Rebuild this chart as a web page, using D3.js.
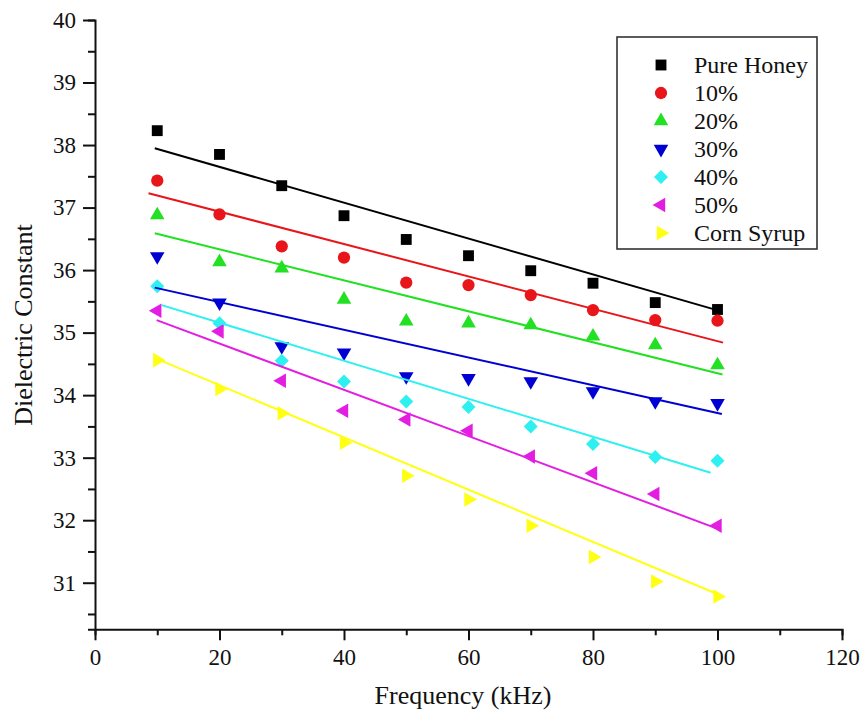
<!DOCTYPE html>
<html>
<head>
<meta charset="utf-8">
<script src="https://cdn.jsdelivr.net/npm/d3@7"></script>
<style>
  html, body { margin: 0; padding: 0; background: #fff; }
  svg { display: block; }
  svg text { font-family: "Liberation Serif", Tinos, "Times New Roman", "DejaVu Serif", serif; fill: #111; }
</style>
</head>
<body>
<svg id="chart" width="860" height="717"></svg>
<script>
// Frequencies (kHz)
const frequency = [10, 20, 30, 40, 50, 60, 70, 80, 90, 100];

// Dielectric constant of each sample
const pureHoney = [38.23, 37.85, 37.35, 36.87, 36.49, 36.23, 35.99, 35.79, 35.48, 35.37];
const syrup10   = [37.43, 36.89, 36.38, 36.20, 35.80, 35.76, 35.60, 35.36, 35.20, 35.19];
const syrup20   = [36.88, 36.13, 36.03, 35.53, 35.18, 35.15, 35.12, 34.94, 34.80, 34.48];
const syrup30   = [36.22, 35.48, 34.78, 34.68, 34.30, 34.27, 34.22, 34.06, 33.90, 33.87];
const syrup40   = [35.74, 35.15, 34.55, 34.22, 33.90, 33.81, 33.50, 33.22, 33.01, 32.95];
const syrup50   = [35.35, 35.02, 34.23, 33.75, 33.61, 33.43, 33.02, 32.75, 32.42, 31.91];
const cornSyrup = [34.56, 34.10, 33.71, 33.24, 32.71, 32.33, 31.91, 31.41, 31.02, 30.78];

const seriesNames = ["Pure Honey", "10%", "20%", "30%", "40%", "50%", "Corn Syrup"];

// Linear fit lines: start / end frequency and fitted value
const fitFromFreq = [9.6, 8.6, 9.6, 9.6, 10.7, 9.9, 10.4];
const fitFromVal  = [37.95, 37.23, 36.59, 35.72, 35.44, 35.20, 34.56];
const fitToFreq   = [99.9, 100.9, 100.8, 100.7, 98.9, 100.4, 100.9];
const fitToVal    = [35.36, 34.84, 34.33, 33.70, 32.76, 31.85, 30.78];

// Axis ticks
const xTicks = [0, 20, 40, 60, 80, 100, 120];
const xMinorTicks = [10, 30, 50, 70, 90, 110];
const yTicks = [31, 32, 33, 34, 35, 36, 37, 38, 39, 40];
const yMinorTicks = [30.5, 31.5, 32.5, 33.5, 34.5, 35.5, 36.5, 37.5, 38.5, 39.5];

const seriesValues = [pureHoney, syrup10, syrup20, syrup30, syrup40, syrup50, cornSyrup];
const colors = ["#000000", "#e8161a", "#22e022", "#0000d2", "#2ef0f0", "#e21ee2", "#ffff14"];
// marker shape + rotation for each series
const markers = [
  { type: d3.symbolSquare,   size: 118, rot: 0 },
  { type: d3.symbolCircle,   size: 118, rot: 0 },
  { type: d3.symbolTriangle, size: 92,  rot: 0 },
  { type: d3.symbolTriangle, size: 92,  rot: 180 },
  { type: d3.symbolSquare,   size: 98,  rot: 45 },
  { type: d3.symbolTriangle, size: 92,  rot: -90 },
  { type: d3.symbolTriangle, size: 92,  rot: 90 }
];

const serif = '"Liberation Serif", Tinos, "Times New Roman", "DejaVu Serif", serif';
const svg = d3.select("#chart");

const x = d3.scaleLinear().domain([0, 120]).range([95, 842]);
const y = d3.scaleLinear().domain([30.255, 40]).range([629.3, 20]);

// Axes
const axisColor = "#111";
const gx = svg.append("g").attr("transform", `translate(0,${y.range()[0]})`);
gx.call(d3.axisBottom(x).tickValues(xTicks).tickSize(11).tickPadding(8).tickFormat(d3.format("d")));
gx.append("g").call(d3.axisBottom(x).tickValues(xMinorTicks).tickSize(6).tickFormat(""));

const gy = svg.append("g").attr("transform", `translate(${x.range()[0]},0)`);
gy.call(d3.axisLeft(y).tickValues(yTicks).tickSize(12).tickPadding(7).tickFormat(d3.format("d")));
gy.append("g").call(d3.axisLeft(y).tickValues(yMinorTicks).tickSize(7).tickFormat(""));

svg.selectAll("g").attr("font-family", serif);
svg.selectAll(".domain").attr("stroke", axisColor).attr("stroke-width", 2);
svg.selectAll(".tick line").attr("stroke", axisColor).attr("stroke-width", 2);
svg.selectAll(".tick text")
  .style("font-family", serif)
  .attr("font-size", 23).attr("fill", "#111");
// minor axes: hide duplicate domain paths
gx.select("g .domain").remove();
gy.select("g .domain").remove();

// Axis titles
svg.append("text")
  .attr("x", 463).attr("y", 704)
  .attr("text-anchor", "middle")
  .style("font-family", serif)
  .attr("font-size", 26)
  .text("Frequency (kHz)");
svg.append("text")
  .attr("transform", "translate(32,325) rotate(-90)")
  .attr("text-anchor", "middle")
  .style("font-family", serif)
  .attr("font-size", 26)
  .text("Dielectric Constant");

// Data markers
const plot = svg.append("g");
seriesValues.forEach((vals, i) => {
  const m = markers[i];
  const sym = d3.symbol().type(m.type).size(m.size);
  plot.append("g").selectAll("path")
    .data(vals.map((v, j) => [frequency[j], v]))
    .join("path")
    .attr("d", sym)
    .attr("transform", d => `translate(${x(d[0])},${y(d[1])}) rotate(${m.rot})`)
    .attr("fill", colors[i]);
});

// Fit lines
const lineGen = d3.line().x(d => x(d[0])).y(d => y(d[1]));
seriesValues.forEach((vals, i) => {
  plot.append("path")
    .datum([[fitFromFreq[i], fitFromVal[i]], [fitToFreq[i], fitToVal[i]]])
    .attr("d", lineGen)
    .attr("fill", "none")
    .attr("stroke", colors[i])
    .attr("stroke-width", 2);
});

// Legend
const legend = svg.append("g");
legend.append("rect")
  .attr("x", 617).attr("y", 37).attr("width", 200).attr("height", 212)
  .attr("fill", "#fff").attr("stroke", "#333").attr("stroke-width", 1.6);
seriesNames.forEach((name, i) => {
  const cy = 65 + i * 28;
  const m = markers[i];
  legend.append("path")
    .attr("d", d3.symbol().type(m.type).size(m.size)())
    .attr("transform", `translate(661,${cy}) rotate(${m.rot})`)
    .attr("fill", colors[i]);
  legend.append("text")
    .attr("x", 694).attr("y", cy + 8)
    .style("font-family", serif)
    .attr("font-size", 24)
    .text(name);
});
</script>
</body>
</html>
